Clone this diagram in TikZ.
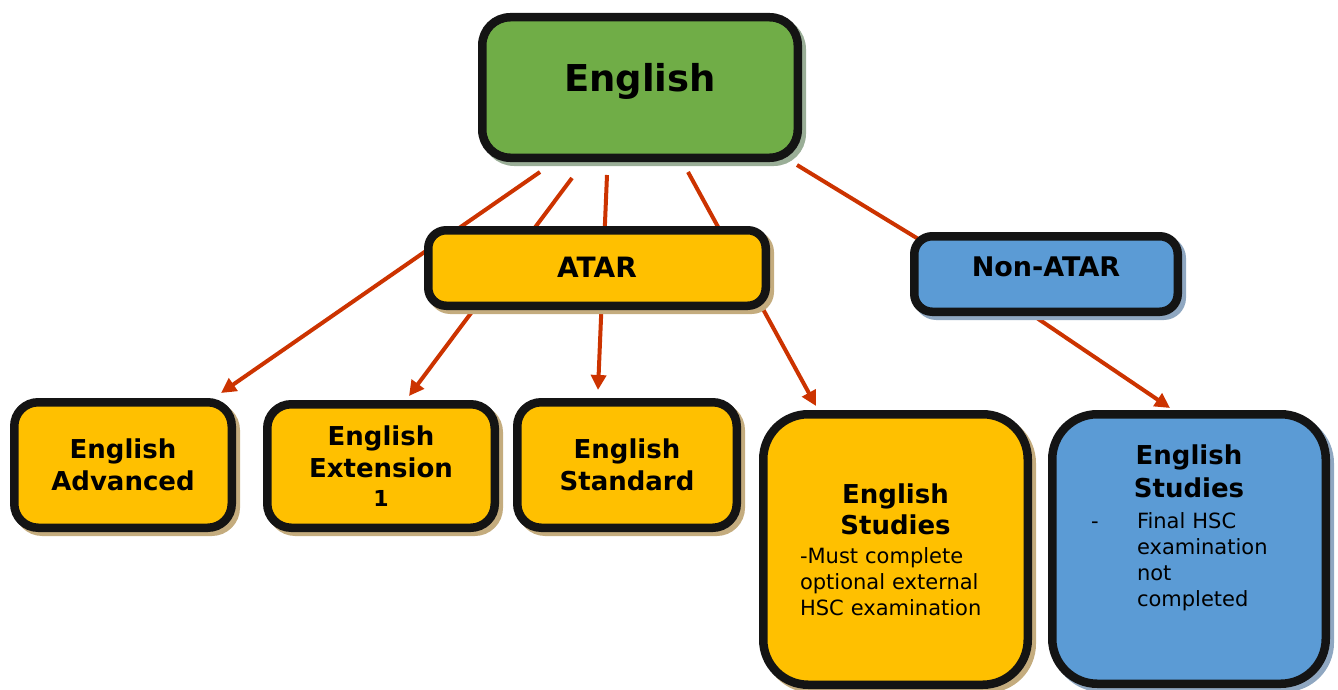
\documentclass[tikz,border=0pt]{standalone}
\usepackage{fontspec}
\setmainfont{DejaVu Sans}
\usetikzlibrary{arrows.meta,backgrounds}
\setlength{\parindent}{0pt}
\definecolor{grn}{HTML}{70AD47}
\definecolor{ylw}{HTML}{FFC000}
\definecolor{blu}{HTML}{5B9BD5}
\definecolor{grnsh}{HTML}{9AAE97}
\definecolor{ylwsh}{HTML}{C4AC7E}
\definecolor{blush}{HTML}{8FA7C1}
\definecolor{bord}{HTML}{141414}
\definecolor{arrc}{HTML}{CC3300}
\tikzset{
  box/.style={draw=bord, line width=8.5pt, rectangle, inner sep=0pt, align=center},
  shad/.style={preaction={draw=#1, fill=#1, transform canvas={shift={(4pt,-4pt)}}}},
  leaf/.style={box, shad=ylwsh, fill=ylw, rounded corners=24pt,
    font=\fontsize{26}{32}\selectfont\bfseries},
  conn/.style={draw=arrc, line width=4pt},
  arrow/.style={conn, -{Triangle[length=15pt,width=15pt]}},
}
\begin{document}
\begin{tikzpicture}[x=1pt,y=-1pt]
\useasboundingbox (0,0) rectangle (1338,690);

\node[box, shad=grnsh, fill=grn, rounded corners=28pt, minimum width=315.5pt, minimum height=140.5pt,
  font=\fontsize{37}{44}\selectfont\bfseries, text depth=21pt] (eng) at (640,87.5) {English};

\node[box, shad=ylwsh, fill=ylw, rounded corners=18pt, minimum width=337.5pt, minimum height=75.5pt,
  font=\fontsize{28}{34}\selectfont\bfseries, text depth=2pt] (atar) at (597,268) {ATAR};

\node[box, shad=blush, fill=blu, rounded corners=18pt, minimum width=263.5pt, minimum height=75.5pt,
  font=\fontsize{27}{33}\selectfont\bfseries, text depth=13.7pt] (non) at (1046,274) {Non-ATAR};

\node[leaf, minimum width=217.5pt, minimum height=125.5pt] (adv) at (123,465) {English\\Advanced};
\node[leaf, minimum width=227.5pt, minimum height=123.5pt] (ext) at (381,466)
  {English\\Extension\\[-3pt]{\fontsize{22}{26}\selectfont 1}};
\node[leaf, minimum width=219.5pt, minimum height=125.5pt] (std) at (627,465) {English\\Standard};

\node[box, shad=ylwsh, fill=ylw, rounded corners=45pt, minimum width=264.5pt, minimum height=270.5pt,
  text width=191pt, align=left, font=\fontsize{21}{26}\selectfont] (ys) at (895.5,549.5)
  {{\centering\fontsize{26}{31}\selectfont\bfseries English\\Studies\par}\vspace{3pt}%
   \noindent -Must complete\\optional external\\HSC examination};

\node[box, shad=blush, fill=blu, rounded corners=45pt, minimum width=273.5pt, minimum height=269.5pt,
  text width=196pt, align=left, font=\fontsize{21}{26}\selectfont, text depth=188pt] (bs) at (1189,549)
  {{\centering\fontsize{26}{33}\selectfont\bfseries English\\Studies\par}\vspace{5pt}%
   \noindent\makebox[46pt][l]{-}Final HSC\\\hspace*{46pt}examination\\\hspace*{46pt}not\\\hspace*{46pt}completed};

\begin{pgfonlayer}{background}
\draw[arrow] ([xshift=-100pt,yshift=-10pt]eng.south) -- ([xshift=-15pt,yshift=5pt]adv.north east);
\draw[arrow] ([xshift=-68pt,yshift=-16pt]eng.south) -- ([xshift=28pt,yshift=4pt]ext.north);
\draw[arrow] ([xshift=-33pt,yshift=-13pt]eng.south) -- ([xshift=-29pt,yshift=8pt]std.north);
\draw[arrow] ([xshift=48pt,yshift=-10pt]eng.south) -- ([xshift=-79.5pt,yshift=4pt]ys.north);
\draw[conn] ([xshift=-5pt,yshift=-3pt]eng.south east) -- ([xshift=10pt,yshift=-8pt]non.north west);
\draw[arrow] ([xshift=-18pt,yshift=4pt]non.south) -- ([xshift=-19pt,yshift=2pt]bs.north);
\end{pgfonlayer}
\end{tikzpicture}
\end{document}
